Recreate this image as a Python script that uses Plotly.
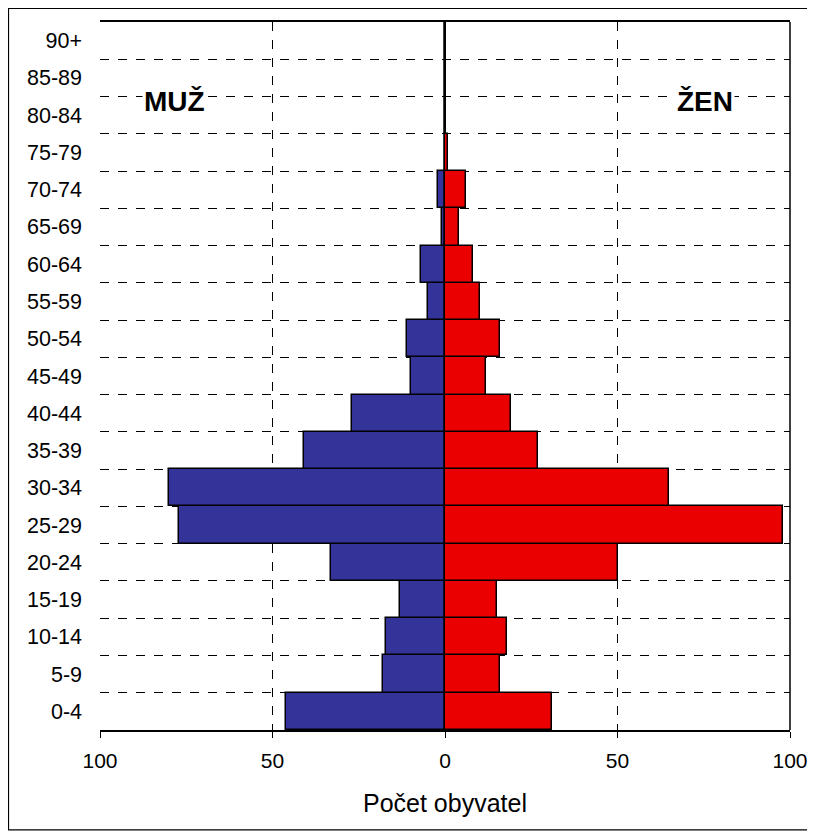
import plotly.graph_objects as go

age_groups = ["0-4", "5-9", "10-14", "15-19", "20-24", "25-29", "30-34", "35-39",
              "40-44", "45-49", "50-54", "55-59", "60-64", "65-69", "70-74",
              "75-79", "80-84", "85-89", "90+"]
men = [46, 18, 17, 13, 33, 77, 80, 41, 27, 10, 11, 5, 7, 1, 2, 0, 0, 0, 0]
women = [31, 16, 18, 15, 50, 98, 65, 27, 19, 12, 16, 10, 8, 4, 6, 1, 0, 0, 0]
x_tickvals = [-100, -50, 0, 50, 100]
x_ticktext = ["100", "50", "0", "50", "100"]

FONT = "Liberation Sans, Arial, sans-serif"
BLUE = "#333399"
RED = "#EA0000"

fig = go.Figure()
fig.add_trace(go.Bar(y=age_groups, x=[-v for v in men], orientation="h", name="MUŽ",
                     marker=dict(color=BLUE, line=dict(color="black", width=1.5))))
fig.add_trace(go.Bar(y=age_groups, x=women, orientation="h", name="ŽEN",
                     marker=dict(color=RED, line=dict(color="black", width=1.5))))

fig.update_layout(
    width=815, height=836,
    margin=dict(l=92, r=33, t=14, b=114),
    paper_bgcolor="white", plot_bgcolor="white",
    barmode="relative", bargap=0,
    showlegend=False,
    font=dict(family=FONT, color="black", size=21),
    xaxis=dict(
        range=[-100, 100], tickvals=x_tickvals, ticktext=x_ticktext,
        showgrid=True, gridcolor="black", griddash="dash", gridwidth=1,
        zeroline=True, zerolinecolor="black", zerolinewidth=1,
        showline=True, linecolor="black", linewidth=1.5, mirror=True,
        ticks="outside", ticklen=6, tickcolor="black", ticklabelstandoff=5,
        tickfont=dict(size=21, family=FONT),
        title=dict(text="Počet obyvatel", font=dict(size=25, family=FONT), standoff=24),
    ),
    yaxis=dict(
        type="category", tickson="boundaries",
        showgrid=True, gridcolor="black", griddash="dash", gridwidth=1,
        showline=False, ticks="", ticklabelstandoff=17,
        tickfont=dict(size=21.5, family=FONT),
    ),
    annotations=[
        dict(x=-78.5, y=16.38, xref="x", yref="y", text="<b>MUŽ</b>", showarrow=False,
             font=dict(size=28, family=FONT, color="black"), bgcolor="white"),
        dict(x=75.5, y=16.38, xref="x", yref="y", text="<b>ŽEN</b>", showarrow=False,
             font=dict(size=28, family=FONT, color="black"), bgcolor="white"),
    ],
    shapes=[
        dict(type="line", xref="paper", yref="paper", x0=1, x1=1, y0=0, y1=1,
             line=dict(color="black", width=1.5)),
        dict(type="rect", xref="paper", yref="paper", x0=-0.1326, x1=1.0304,
             y0=-0.1412, y1=1.0191, line=dict(color="black", width=1.2), layer="below"),
    ],
)

fig.write_html("out.html")
